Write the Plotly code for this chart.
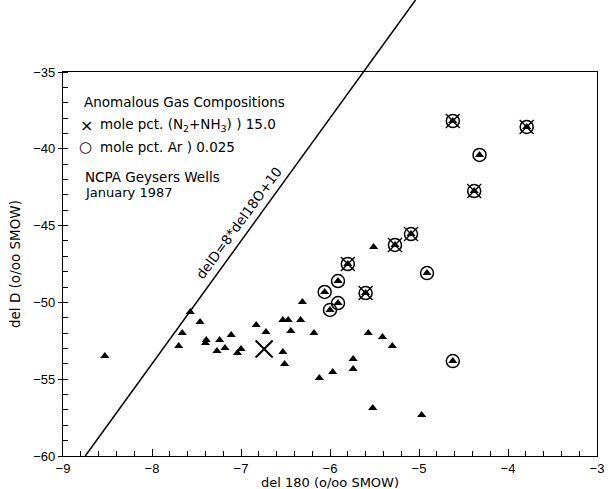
import math
import plotly.graph_objects as go

# ---------------- data ----------------
# plain samples (filled triangles)
tri_d18o = [-8.53, -7.57, -7.66, -7.70, -7.46, -7.39, -7.40, -7.24, -7.27, -7.18,
            -7.11, -7.04, -7.00, -6.83, -6.72, -6.53, -6.47, -6.44, -6.31, -6.33,
            -6.18, -6.53, -6.51, -6.12, -5.97, -5.74, -5.74, -5.51, -5.57, -5.41,
            -5.30, -5.52, -4.97]
tri_dD = [-53.49, -50.63, -51.99, -52.84, -51.28, -52.45, -52.64, -52.45, -53.16, -52.97,
          -52.12, -53.29, -53.03, -51.47, -51.93, -51.15, -51.15, -51.86, -49.97, -51.15,
          -51.99, -53.23, -54.01, -54.92, -54.53, -53.69, -54.34, -46.39, -51.99, -52.25,
          -52.84, -56.88, -57.33]

# samples with mole pct. Ar > 0.025 (triangle in circle)
ar_d18o = [-6.00, -5.91, -5.91, -6.06, -4.91, -4.62, -4.32]
ar_dD = [-50.49, -50.04, -48.61, -49.32, -48.09, -53.82, -40.40]

# samples with both anomalies (triangle in circle, crossed)
n2_d18o = [-5.80, -5.60, -5.27, -5.09, -4.38, -4.62, -3.79]
n2_dD = [-47.50, -49.39, -46.26, -45.55, -42.75, -38.19, -38.58]

# sample shown with an X only
xo_d18o = [-6.74]
xo_dD = [-53.03]

x_range = [-9, -3]
y_range = [-60, -35]
x_tick_vals = [-9, -8, -7, -6, -5, -4, -3]
y_tick_vals = [-60, -55, -50, -45, -40, -35]

mwl_slope = 8
mwl_intercept = 10
mwl_label = "delD=8*del18O+10"
mwl_label_dD = -45.3

legend_title = "Anomalous Gas Compositions"
legend_n2 = "mole pct. (N<sub>2</sub>+NH<sub>3</sub>) ) 15.0"
legend_ar = "mole pct. Ar ) 0.025"
note_1 = "NCPA Geysers Wells"
note_2 = "January 1987"

x_title = "del 180 (o/oo SMOW)"
y_title = "del D (o/oo SMOW)"

# ---------------- layout geometry ----------------
W, H = 616, 489
ML, MR, MT, MB = 63, 13, 72, 33
PW, PH = W - ML - MR, H - MT - MB

FONT = "DejaVu Sans, Arial, sans-serif"
TICKFONT = "Liberation Sans, Arial, sans-serif"
BLACK = "black"

fig = go.Figure()

all_tri_x = tri_d18o + ar_d18o + n2_d18o
all_tri_y = tri_dD + ar_dD + n2_dD

fig.add_trace(go.Scatter(
    x=all_tri_x, y=all_tri_y, mode="markers",
    marker=dict(symbol="triangle-up", size=8, color=BLACK, line=dict(width=0)),
    showlegend=False, hoverinfo="x+y"))

fig.add_trace(go.Scatter(
    x=ar_d18o + n2_d18o, y=ar_dD + n2_dD, mode="markers",
    marker=dict(symbol="circle-open", size=13, color=BLACK, line=dict(width=1.5, color=BLACK)),
    showlegend=False, hoverinfo="skip"))

fig.add_trace(go.Scatter(
    x=n2_d18o, y=n2_dD, mode="markers",
    marker=dict(symbol="x-thin-open", size=14, color=BLACK, line=dict(width=1.3, color=BLACK)),
    showlegend=False, hoverinfo="skip"))

fig.add_trace(go.Scatter(
    x=xo_d18o, y=xo_dD, mode="markers",
    marker=dict(symbol="x-thin-open", size=17, color=BLACK, line=dict(width=2, color=BLACK)),
    showlegend=False, hoverinfo="x+y"))

# ---------------- meteoric water line (extends above plot) ----------------
def to_paper_x(v):
    return (v - x_range[0]) / (x_range[1] - x_range[0])

y_bot = y_range[0]
y_top_paper = 1 + MT / PH
y_top = y_range[0] + y_top_paper * (y_range[1] - y_range[0])
x_bot = (y_bot - mwl_intercept) / mwl_slope
x_top = (y_top - mwl_intercept) / mwl_slope

fig.add_shape(type="line", xref="paper", yref="paper",
              x0=to_paper_x(x_bot), y0=0, x1=to_paper_x(x_top), y1=y_top_paper,
              line=dict(color=BLACK, width=1.5))

px_per_x = PW / (x_range[1] - x_range[0])
px_per_y = PH / (y_range[1] - y_range[0])
ang = math.degrees(math.atan(mwl_slope * px_per_y / px_per_x))
off = 13
lab_x = (mwl_label_dD - mwl_intercept) / mwl_slope
fig.add_annotation(x=lab_x, y=mwl_label_dD, xref="x", yref="y", text=mwl_label,
                   showarrow=False, textangle=-ang,
                   xshift=-off * math.sin(math.radians(ang)),
                   yshift=off * math.cos(math.radians(ang)),
                   font=dict(family=FONT, size=13.5, color=BLACK))

# ---------------- legend-like notes ----------------
def px2paper(px, py):
    return (px - ML) / PW, (H - MB - py) / PH

def note(text, px, py, size=13.5):
    xp, yp = px2paper(px, py)
    fig.add_annotation(x=xp, y=yp, xref="paper", yref="paper", text=text,
                       showarrow=False, xanchor="left", yanchor="middle",
                       font=dict(family=FONT, size=size, color=BLACK))

note(legend_title, 82, 102)
note("×", 78, 125, 16)
note(legend_n2, 98, 125)
note("○", 77, 147, 15)
note(legend_ar, 98, 147)
note(note_1, 83, 177)
note(note_2, 83, 192, 13)

# axis titles
fig.add_annotation(x=0.5, y=0, xref="paper", yref="paper", text=x_title,
                   showarrow=False, yanchor="top", yshift=-17,
                   font=dict(family=FONT, size=13, color=BLACK))
fig.add_annotation(x=0, y=0.5, xref="paper", yref="paper", text=y_title,
                   showarrow=False, xanchor="center", textangle=-90, xshift=-48,
                   font=dict(family=FONT, size=13.5, color=BLACK))

axis_common = dict(showgrid=False, zeroline=False, showline=True, linecolor=BLACK,
                   linewidth=1.3, mirror=True, tickcolor=BLACK, tickwidth=1.2,
                   tickfont=dict(family=TICKFONT, size=13, color=BLACK))

fig.update_xaxes(range=x_range, tickmode="array", tickvals=x_tick_vals,
                 ticktext=["−" + str(abs(v)) for v in x_tick_vals],
                 ticks="inside", ticklen=7,
                 minor=dict(ticks="inside", dtick=0.2, ticklen=5, tickcolor=BLACK, tickwidth=1),
                 **axis_common)
fig.update_yaxes(range=y_range, tickmode="array", tickvals=y_tick_vals,
                 ticktext=["−" + str(abs(v)) for v in y_tick_vals],
                 ticks="outside", ticklen=4,
                 minor=dict(ticks="inside", dtick=1, ticklen=5, tickcolor=BLACK, tickwidth=1),
                 **axis_common)

fig.update_layout(width=W, height=H, margin=dict(l=ML, r=MR, t=MT, b=MB),
                  paper_bgcolor="white", plot_bgcolor="white",
                  font=dict(family=FONT, color=BLACK))

fig.write_html("out.html")
